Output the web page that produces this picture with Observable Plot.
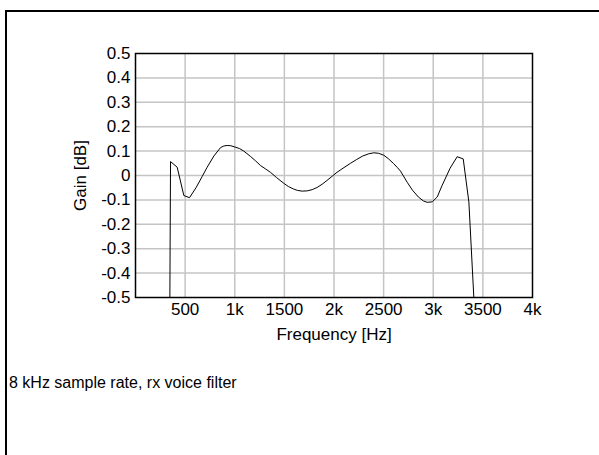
<!DOCTYPE html>
<html>
<head>
<meta charset="utf-8">
<script src="https://cdn.jsdelivr.net/npm/d3@7"></script>
<script src="https://cdn.jsdelivr.net/npm/@observablehq/plot@0.6"></script>
<style>
  html, body { margin: 0; padding: 0; background: #fff; width: 599px; height: 455px; overflow: hidden; }
  body { position: relative; font-family: "Liberation Sans", Arial, sans-serif; }
  #frame { position: absolute; left: 5px; top: 10px; width: 620px; height: 480px; border-left: 2.5px solid #000; border-top: 2.5px solid #000; }
  #title { position: absolute; left: 0; width: 486px; top: -17px; text-align: center; font-size: 18px; font-weight: bold; color: #000; }
  #chart { position: absolute; left: 0; top: 0; }
  #caption { position: absolute; left: 9px; top: 374px; font-size: 16px; color: #000; }
</style>
</head>
<body>
<div id="title">Filter characteristics</div>
<div id="frame"></div>
<div id="chart"></div>
<div id="caption">8 kHz sample rate, rx voice filter</div>
<script>
const freqHz = [345, 353, 420, 487, 544, 610, 672, 722, 790, 856, 890, 924, 960, 1000, 1050, 1091, 1159, 1210, 1259, 1310, 1360, 1420, 1494, 1540, 1590, 1630, 1679, 1730, 1780, 1830, 1880, 1930, 1982, 2030, 2080, 2166, 2230, 2290, 2350, 2401, 2450, 2502, 2550, 2600, 2640, 2670, 2738, 2790, 2850, 2900, 2939, 2990, 3040, 3090, 3170, 3241, 3302, 3359, 3409, 3415];
const gainDb = [-0.6, 0.057, 0.034, -0.082, -0.091, -0.05, -0.004, 0.034, 0.08, 0.114, 0.121, 0.123, 0.122, 0.117, 0.11, 0.1, 0.078, 0.06, 0.041, 0.027, 0.013, -0.008, -0.032, -0.045, -0.055, -0.061, -0.064, -0.063, -0.058, -0.049, -0.036, -0.02, -0.003, 0.013, 0.027, 0.05, 0.066, 0.08, 0.089, 0.093, 0.091, 0.083, 0.068, 0.049, 0.032, 0.018, -0.028, -0.06, -0.088, -0.104, -0.11, -0.108, -0.088, -0.04, 0.03, 0.077, 0.068, -0.109, -0.5, -0.6];
const xTicks = [500, 1000, 1500, 2000, 2500, 3000, 3500, 4000];
const xTickLabels = ["500", "1k", "1500", "2k", "2500", "3k", "3500", "4k"];
const yTicks = [0.5, 0.4, 0.3, 0.2, 0.1, 0, -0.1, -0.2, -0.3, -0.4, -0.5];
const yTickLabels = ["0.5", "0.4", "0.3", "0.2", "0.1", "0", "-0.1", "-0.2", "-0.3", "-0.4", "-0.5"];

const data = freqHz.map((f, i) => ({f, g: gainDb[i]}));

const chart = Plot.plot({
  width: 599,
  height: 360,
  marginLeft: 135,
  marginRight: 67,
  marginTop: 53,
  marginBottom: 63,
  style: {background: "transparent", fontFamily: "'Liberation Sans', Arial, sans-serif", fontSize: "17px", color: "#000"},
  x: {domain: [0, 4000], ticks: xTicks, tickFormat: d => xTickLabels[xTicks.indexOf(d)], tickSize: 0, tickPadding: 5, label: "Frequency [Hz]", labelAnchor: "center", labelArrow: "none", labelOffset: 42},
  y: {domain: [-0.5, 0.5], ticks: yTicks, tickFormat: d => yTickLabels[yTicks.findIndex(t => Math.abs(t - d) < 1e-9)], tickSize: 0, tickPadding: 5, label: "Gain [dB]", labelAnchor: "center", labelArrow: "none", labelOffset: 62},
  marks: [
    Plot.ruleX(xTicks.slice(0, -1), {stroke: "#c4c4c4", strokeWidth: 1.5}),
    Plot.ruleY(yTicks.slice(1, -1), {stroke: "#c4c4c4", strokeWidth: 1.5}),
    Plot.line(data, {x: "f", y: "g", stroke: "#000", strokeWidth: 1, clip: true}),
    Plot.frame({stroke: "#000", strokeWidth: 1.5})
  ]
});
document.getElementById("chart").appendChild(chart);
</script>
</body>
</html>
